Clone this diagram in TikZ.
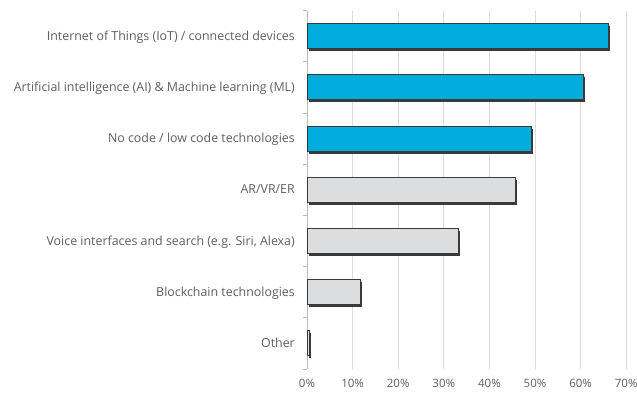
\documentclass[tikz,border=0pt]{standalone}
\usepackage{fontspec}
\setmainfont{Open Sans}
\definecolor{txt}{HTML}{5E5E5E}
\definecolor{grid}{HTML}{DCDCDC}
\definecolor{blue}{HTML}{00ACDB}
\definecolor{lgray}{HTML}{DCDDDF}
\definecolor{edge}{HTML}{3A3A3A}
\tikzset{
  lab/.style={anchor=base east, text=txt, font=\fontsize{12.4}{14}\selectfont, inner sep=0pt},
  ticklab/.style={anchor=base, text=txt, font=\fontsize{11.5}{13}\selectfont, inner sep=0pt},
  gridline/.style={draw=grid, line width=0.8pt},
  axisline/.style={draw=grid!85!black, line width=0.8pt},
  shadow/.style={fill=edge, draw=none},
  barbox/.style={draw=edge, line width=0.9pt},
}
\newcommand{\mybar}[4]{% #1 index, #2 value, #3 color, #4 label
  \pgfmathsetmacro{\yc}{10.5+51.2*(#1+0.5)}
  \pgfmathsetmacro{\xr}{307+4.56*#2}
  \fill[shadow] (308.5,\yc-10) rectangle (\xr+1.5,\yc+15);
  \filldraw[barbox, fill=#3] (307,\yc-12.5) rectangle (\xr,\yc+12.5);
  \node[lab] (lab#1) at (295,\yc+4.2) {#4};
}
\begin{document}
\begin{tikzpicture}[x=1pt,y=-1pt]
\useasboundingbox (0,0) rectangle (637,392);
\foreach \i in {1,...,7}{
  \draw[gridline] (307+45.6*\i,10.5) -- (307+45.6*\i,369);
}
\foreach \i in {0,...,7}{
  \draw[axisline] (302.5,10.5+51.2*\i) -- (307,10.5+51.2*\i);
  \pgfmathtruncatemacro{\p}{10*\i}
  \node[ticklab] (t\i) at (307+45.6*\i,387.5) {\p\%};
}
\draw[axisline] (307,10.5) -- (307,369);
\mybar{0}{66.2}{blue}{Internet of Things (IoT) / connected devices}
\mybar{1}{60.7}{blue}{Artificial intelligence (AI) \& Machine learning (ML)}
\mybar{2}{49.2}{blue}{No code / low code technologies}
\mybar{3}{45.7}{lgray}{AR/VR/ER}
\mybar{4}{33.2}{lgray}{Voice interfaces and search (e.g. Siri, Alexa)}
\mybar{5}{11.7}{lgray}{Blockchain technologies}
\mybar{6}{0.5}{lgray}{Other}
\end{tikzpicture}
\end{document}
